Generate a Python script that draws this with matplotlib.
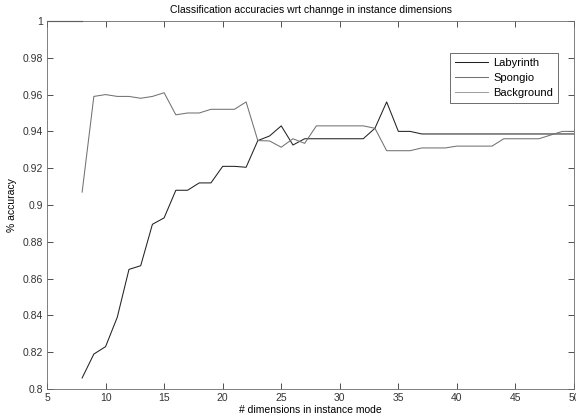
import numpy as np
import matplotlib
matplotlib.use("Agg")
import matplotlib.pyplot as plt

plt.rcParams['font.family'] = ['Liberation Sans', 'DejaVu Sans']

# x values (number of dimensions)
dims = np.arange(8, 51)

# Labyrinth accuracy per dimension count
labyrinth = [0.806, 0.819, 0.823, 0.839, 0.865, 0.867, 0.8895, 0.893, 0.908, 0.908,
             0.912, 0.912, 0.921, 0.921, 0.9205, 0.935, 0.9375, 0.943, 0.9326, 0.936,
             0.936, 0.936, 0.936, 0.936, 0.936, 0.9417, 0.956, 0.940, 0.940, 0.9386,
             0.9386, 0.9386, 0.9386, 0.9386, 0.9386, 0.9386, 0.9386, 0.9386, 0.9386, 0.9386,
             0.9386, 0.9386, 0.9386]

# Spongio accuracy per dimension count
spongio = [0.907, 0.959, 0.960, 0.959, 0.959, 0.958, 0.959, 0.961, 0.949, 0.950,
           0.950, 0.952, 0.952, 0.952, 0.956, 0.935, 0.9348, 0.9314, 0.936, 0.9335,
           0.943, 0.943, 0.943, 0.943, 0.943, 0.9417, 0.9295, 0.9295, 0.9295, 0.931,
           0.931, 0.931, 0.932, 0.932, 0.932, 0.932, 0.936, 0.936, 0.936, 0.936,
           0.938, 0.940, 0.940]

# Background only shows at the top edge
bg_dims = [5, 6, 7, 8]
background = [1.0, 1.0, 1.0, 1.0]

xticks = [5, 10, 15, 20, 25, 30, 35, 40, 45, 50]
yticks = [0.8, 0.82, 0.84, 0.86, 0.88, 0.9, 0.92, 0.94, 0.96, 0.98, 1.0]
ytick_labels = ['0.8', '0.82', '0.84', '0.86', '0.88', '0.9', '0.92', '0.94', '0.96', '0.98', '1']

fig = plt.figure(figsize=(5.76, 4.18), dpi=100)
ax = fig.add_axes([0.0816, 0.0694, 0.915, 0.8804])

ax.plot(dims, labyrinth, color='#222222', lw=0.75, label='Labyrinth')
ax.plot(dims, spongio, color='#727272', lw=0.75, label='Spongio')
ax.plot(bg_dims, background, color='#a0a0a0', lw=0.75, label='Background', clip_on=False)
# darker trace where the background line sits on the frame
ax.plot(bg_dims, background, color='#202020', lw=0.8, clip_on=False)

ax.set_xlim(5, 50)
ax.set_ylim(0.8, 1.0)
ax.set_xticks(xticks)
ax.set_yticks(yticks)
ax.set_yticklabels(ytick_labels)
ax.tick_params(direction='in', top=True, right=True, length=4, width=0.6,
               labelsize=7.5, colors='#333333', pad=3)
for sp in ax.spines.values():
    sp.set_linewidth(0.6)
    sp.set_color('#6a6a6a')

ax.set_title('Classification accuracies wrt channge in instance dimensions', fontsize=7.5, pad=6)
ax.set_xlabel('# dimensions in instance mode', fontsize=7.5, labelpad=1)
ax.set_ylabel('% accuracy', fontsize=7.5, labelpad=4)

leg = ax.legend(loc='upper right', bbox_to_anchor=(0.9696, 0.913), fontsize=8,
                fancybox=False, framealpha=1, edgecolor='#555555', borderaxespad=0,
                handlelength=2.9, borderpad=0.45, labelspacing=0.45, handletextpad=0.5)
leg.get_frame().set_linewidth(0.6)

fig.savefig('out.png', dpi=100)
